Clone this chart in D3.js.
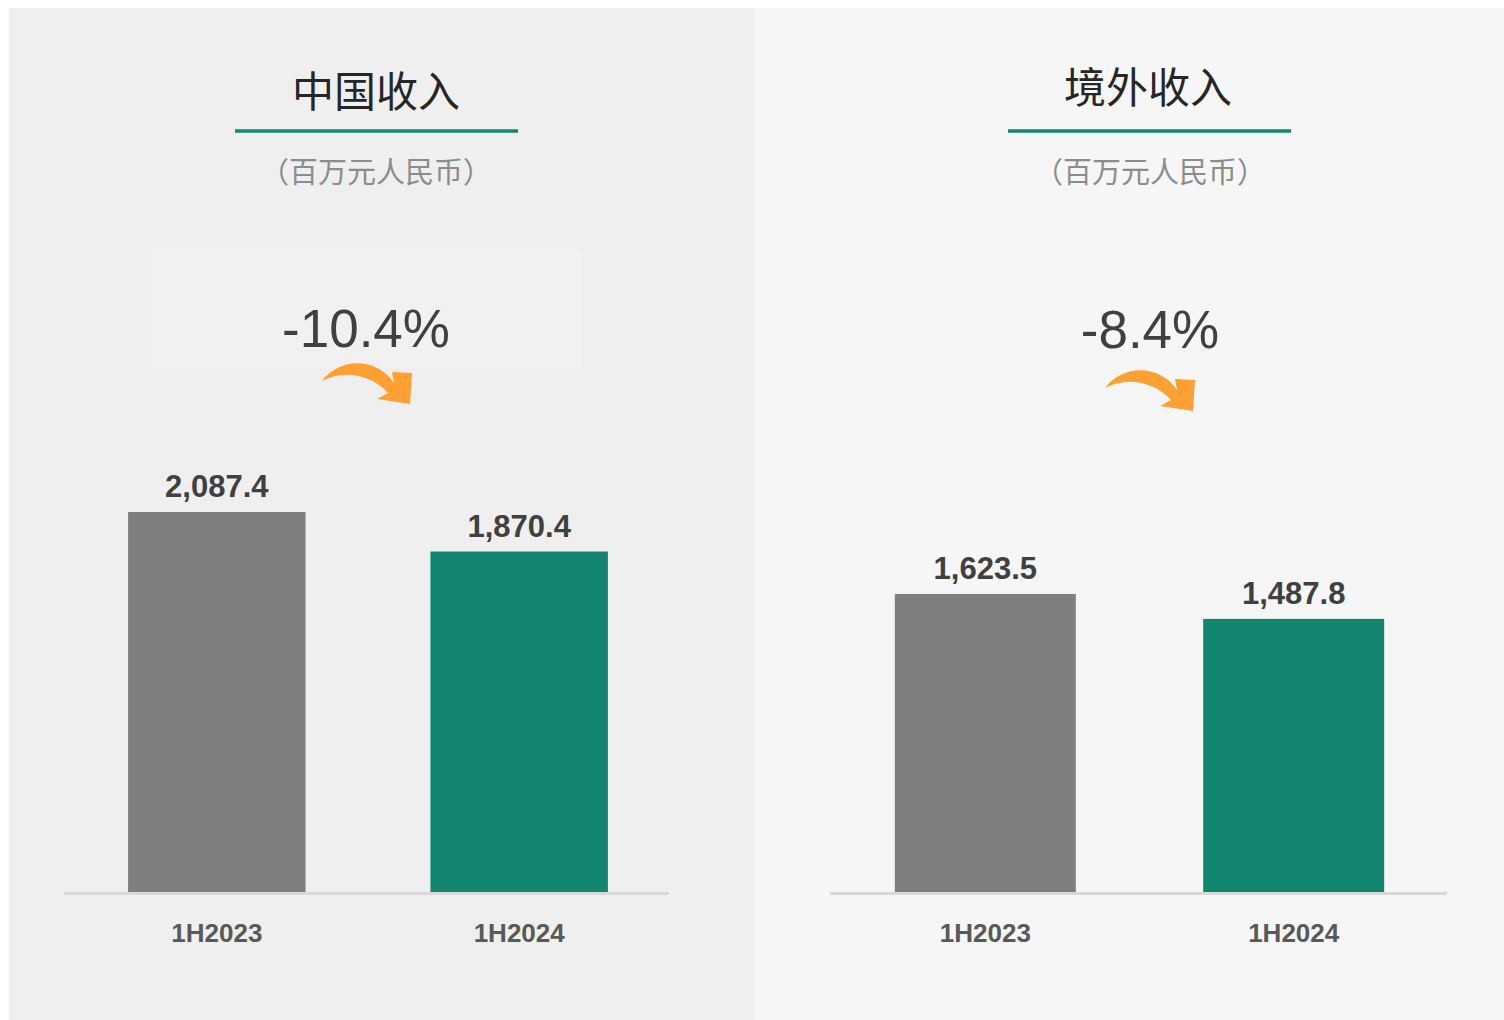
<!DOCTYPE html>
<html><head><meta charset="utf-8">
<script src="https://cdn.jsdelivr.net/npm/d3@7"></script>
<style>html,body{margin:0;padding:0;background:#fff;}svg{display:block;}</style>
</head><body>
<svg id="c" width="1504" height="1020"></svg>
<script>
// ---- data ----
const categories = ["1H2023", "1H2024"];
const panelTitles = ["中国收入", "境外收入"];
const unitLabel = "（百万元人民币）";
const chinaValues = [2087.4, 1870.4];
const overseasValues = [1623.5, 1487.8];
const changeLabels = ["-10.4%", "-8.4%"];

const GRAY = "#7f7f7f", GREEN = "#12866f", ORANGE = "#ffa033";
const svg = d3.select("#c");
const fmt = d3.format(",.1f");

const panels = [
  {values: chinaValues, title: panelTitles[0], change: changeLabels[0], bg: "#efefef",
   px: 9, pw: 745, axis: [64, 669], band: [65.5, 670.5], plotH: 418.7, titleX: 376, titleY: 107, lineX: [235, 518],
   subX: 376, changeX: 366, changeY: 347, arrow: [322, 381], box: [152, 250, 429, 118]},
  {values: overseasValues, title: panelTitles[1], change: changeLabels[1], bg: "#f6f6f6",
   px: 754, pw: 750, axis: [830, 1447], band: [831, 1448], plotH: 422.2, titleX: 1148, titleY: 103, lineX: [1008, 1291],
   subX: 1150, changeX: 1150, changeY: 348, arrow: [1105, 388], box: null}
];

const baseY = 892;
const yMax = 2300;

panels.forEach(p => {
  svg.append("rect").attr("x", p.px).attr("y", 8).attr("width", p.pw).attr("height", 1012).attr("fill", p.bg);
  if (p.box) svg.append("rect").attr("x", p.box[0]).attr("y", p.box[1]).attr("width", p.box[2]).attr("height", p.box[3]).attr("fill", "#f1f1f1");
});

panels.forEach(p => {
  const g = svg.append("g");
  const x = d3.scaleBand().domain(categories).range(p.band).paddingInner(0.413).paddingOuter(0.207);
  const y = d3.scaleLinear().domain([0, yMax]).range([baseY, baseY - p.plotH]);

  // title
  g.append("text").attr("x", p.titleX).attr("y", p.titleY).attr("text-anchor", "middle")
    .attr("font-family", "'Noto Sans CJK SC', sans-serif").attr("font-size", 42).attr("fill", "#262626")
    .text(p.title);
  g.append("line").attr("x1", p.lineX[0]).attr("x2", p.lineX[1]).attr("y1", 131).attr("y2", 131)
    .attr("stroke", GREEN).attr("stroke-width", 3.5);
  g.append("text").attr("x", p.subX).attr("y", 183).attr("text-anchor", "middle")
    .attr("font-family", "'Noto Sans CJK SC', sans-serif").attr("font-size", 29).attr("fill", "#8c8c8c")
    .text(unitLabel);

  // change
  g.append("text").attr("x", p.changeX).attr("y", p.changeY).attr("text-anchor", "middle")
    .attr("font-family", "'Liberation Sans', Arial, sans-serif").attr("font-size", 53).attr("fill", "#404040")
    .text(p.change);

  // arrow (relative to tail point)
  const path = "M0,0 C18,-24 55,-24 72,2 L70,-9 L90,-8 L88,23 L55,18 L66,12 C50,-6 22,-12 0,0 Z";
  g.append("path").attr("d", path).attr("transform", `translate(${p.arrow[0]},${p.arrow[1]})`).attr("fill", ORANGE);

  // bars
  g.selectAll("rect.bar").data(p.values).join("rect").attr("class", "bar")
    .attr("x", (d, i) => x(categories[i])).attr("width", x.bandwidth())
    .attr("y", d => y(d)).attr("height", d => baseY - y(d))
    .attr("fill", (d, i) => i === 0 ? GRAY : GREEN);

  g.selectAll("text.val").data(p.values).join("text").attr("class", "val")
    .attr("x", (d, i) => x(categories[i]) + x.bandwidth() / 2).attr("y", d => y(d) - 15)
    .attr("text-anchor", "middle").attr("font-family", "'Liberation Sans', Arial, sans-serif")
    .attr("font-weight", "bold").attr("font-size", 31).attr("fill", "#404040")
    .text(d => fmt(d));

  // axis
  const ax = g.append("g").attr("transform", `translate(0,${baseY + 1.5})`)
    .call(d3.axisBottom(x).tickSize(0).tickPadding(48));
  ax.select(".domain").attr("d", `M${p.axis[0]},0H${p.axis[1]}`).attr("stroke", "#d9d9d9").attr("stroke-width", 3);
  ax.selectAll(".tick text").attr("font-family", "'Liberation Sans', Arial, sans-serif")
    .attr("font-weight", "bold").attr("font-size", 26).attr("fill", "#595959").attr("dy", 0);
});
</script>
</body></html>
